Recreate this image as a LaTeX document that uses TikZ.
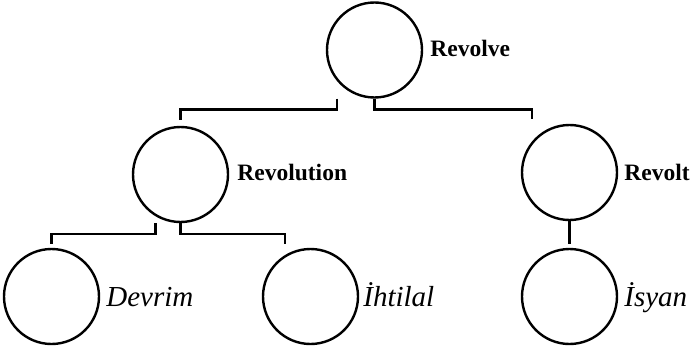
\documentclass[tikz,border=0pt]{standalone}
\usepackage{fontspec}
\setmainfont{Liberation Serif}
\begin{document}
\begin{tikzpicture}[x=1pt,y=-1pt,
  termcircle/.style={circle,draw,line width=2.4pt,minimum size=95pt,inner sep=0pt},
  headlabel/.style={anchor=base west,inner sep=0pt,font=\fontsize{23.5}{27}\selectfont\bfseries},
  leaflabel/.style={anchor=base west,inner sep=0pt,font=\fontsize{29}{33}\selectfont\itshape},
  branch/.style={line width=2.4pt,line cap=butt}]
\useasboundingbox (0,0) rectangle (690,350);

% word circles
\node[termcircle] (revolve)    at (374.5,50)    {};
\node[termcircle] (revolution) at (180.5,174.5) {};
\node[termcircle] (revolt)     at (569.5,172.5) {};
\node[termcircle] (devrim)     at (51.5,296.5)  {};
\node[termcircle] (ihtilal)    at (310.5,296.5) {};
\node[termcircle] (isyan)      at (569.5,296.5) {};

% labels beside the circles
\node[headlabel] (lrevolve)    at ([xshift=7pt,yshift=-7pt]revolve.east)    {Revolve};
\node[headlabel] (lrevolution) at ([xshift=8pt,yshift=-5.5pt]revolution.east) {Revolution};
\node[headlabel] (lrevolt)     at ([xshift=6pt,yshift=-7.5pt]revolt.east)     {Revolt};
\node[leaflabel] (ldevrim)     at ([xshift=6pt,yshift=-9.5pt]devrim.east)     {Devrim};
\node[leaflabel] (lihtilal)    at ([xshift=4pt,yshift=-9.5pt]ihtilal.east)    {İhtilal};
\node[leaflabel] (lisyan)      at ([xshift=6pt,yshift=-9.5pt]isyan.east)      {İsyan};

% bracket connectors
\draw[branch] ([xshift=-37.5pt]revolve.south) -- ++(0,11) -| ([yshift=6pt]revolution.north);
\draw[branch] (revolve.south) -- ++(0,11) -| ([xshift=-37.5pt,yshift=5pt]revolt.north);
\draw[branch] ([xshift=-25pt]revolution.south) -- ++(0,11) -| ([yshift=4pt]devrim.north);
\draw[branch] (revolution.south) -- ++(0,11) -| ([xshift=-25.5pt,yshift=4pt]ihtilal.north);
\draw[branch] (revolt.south) -- ([yshift=4pt]isyan.north);
\end{tikzpicture}
\end{document}
